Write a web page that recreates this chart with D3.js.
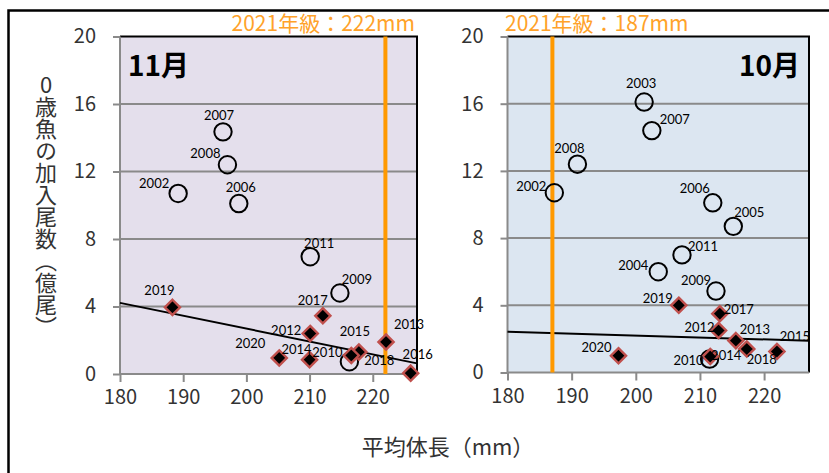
<!DOCTYPE html>
<html>
<head>
<meta charset="utf-8">
<script src="https://cdn.jsdelivr.net/npm/d3@7"></script>
<style>
  html, body { margin: 0; padding: 0; background: #fff; }
  svg { display: block; }
</style>
</head>
<body>
<svg id="chart" width="829" height="473"></svg>
<script>
// Axis ticks shared by both panels
const xTicks = [180, 190, 200, 210, 220];
const yTicks = [0, 4, 8, 12, 16, 20];

// November survey: 2002-2011 (open circles), 2012-2020 (diamonds)
const novCircleYears  = [2002, 2006, 2007, 2008, 2009, 2010, 2011];
const novCircleLength = [189.2, 198.8, 196.3, 197.0, 214.8, 216.3, 210.1];
const novCircleCount  = [10.7, 10.1, 14.35, 12.4, 4.8, 0.73, 6.95];
const novDiamondYears  = [2012, 2013, 2014, 2015, 2016, 2017, 2018, 2019, 2020];
const novDiamondLength = [210.1, 222.1, 210.0, 217.8, 226.0, 212.1, 216.6, 188.3, 205.2];
const novDiamondCount  = [2.4, 1.9, 0.85, 1.3, 0.05, 3.45, 1.1, 3.95, 0.95];
const novCohortLength = 222;

// October survey
const octCircleYears  = [2002, 2003, 2004, 2005, 2006, 2007, 2008, 2009, 2010, 2011];
const octCircleLength = [187.3, 201.3, 203.5, 215.2, 212.0, 202.5, 190.9, 212.5, 211.5, 207.2];
const octCircleCount  = [10.7, 16.1, 6.0, 8.7, 10.1, 14.4, 12.4, 4.85, 0.8, 7.0];
const octDiamondYears  = [2012, 2013, 2014, 2015, 2017, 2018, 2019, 2020];
const octDiamondLength = [212.9, 215.6, 211.6, 222.0, 213.1, 217.3, 206.7, 197.3];
const octDiamondCount  = [2.5, 1.9, 0.95, 1.25, 3.5, 1.4, 4.0, 1.0];
const octCohortLength = 187;

const xDomain = [180, 227];
const yDomain = [0, 20];

// Year-label placement (offset of label centre/baseline from the marker)
const novLabelOffsets = {
  2002: [-24, -5], 2006: [2, -12], 2007: [-4, -12], 2008: [-22, -7],
  2009: [17, -9], 2010: [-22, -5], 2011: [9, -9],
  2012: [-24, 1], 2013: [23, -13], 2014: [-13, -6], 2015: [-4, -16],
  2016: [7, -14], 2017: [-10, -11], 2018: [28, 10], 2019: [-13, -12], 2020: [-29, -10]
};
const octLabelOffsets = {
  2002: [-23, -2], 2003: [-3, -14], 2004: [-25, -2], 2005: [16, -9],
  2006: [-18, -10], 2007: [23, -7], 2008: [-8, -11], 2009: [-20, -6],
  2010: [-21, 6], 2011: [21, -4],
  2012: [-19, 1], 2013: [19, -7], 2014: [16, 3], 2015: [18, -11],
  2017: [19, 0], 2018: [15, 15], 2019: [-21, -2], 2020: [-22, -4]
};

const svg = d3.select("#chart");
const GRID = "#8a8a8a";
const TICK_FONT = "'Noto Sans CJK JP', 'Noto Sans', sans-serif";

// Outer frame
svg.append("path")
  .attr("d", "M8.5,480 V10.5 H840")
  .attr("fill", "none").attr("stroke", "#000").attr("stroke-width", 2.5);

function linearFit(xs, ys) {
  const mx = d3.mean(xs), my = d3.mean(ys);
  let sxy = 0, sxx = 0;
  xs.forEach((x, i) => { sxy += (x - mx) * (ys[i] - my); sxx += (x - mx) * (x - mx); });
  const slope = sxy / sxx;
  return { slope, intercept: my - slope * mx };
}

// diamond marker, half-diagonal h
const diamondPath = h => `M0,${-h}L${h},0L0,${h}L${-h},0Z`;

function drawPanel(cfg) {
  const x = d3.scaleLinear().domain(xDomain).range([cfg.left, cfg.right]);
  const y = d3.scaleLinear().domain(yDomain).range([cfg.bottom, cfg.top]);
  const g = svg.append("g");

  g.append("rect")
    .attr("x", cfg.left).attr("y", cfg.top)
    .attr("width", cfg.right - cfg.left).attr("height", cfg.bottom - cfg.top)
    .attr("fill", cfg.bg);

  // horizontal gridlines
  g.append("g").selectAll("line").data(yTicks.filter(d => d > 0 && d < 20)).join("line")
    .attr("x1", cfg.left).attr("x2", cfg.right)
    .attr("y1", d => y(d)).attr("y2", d => y(d))
    .attr("stroke", GRID).attr("stroke-width", 2);

  // plot-area border (top / right)
  g.append("path")
    .attr("d", `M${cfg.left},${cfg.top} H${cfg.right} V${cfg.bottom}`)
    .attr("fill", "none").attr("stroke", "#000").attr("stroke-width", 2);

  // axes
  const yAxis = d3.axisLeft(y).tickValues(yTicks).tickSize(7).tickPadding(17);
  const yg = g.append("g").attr("transform", `translate(${cfg.left},0)`).call(yAxis);
  const xAxis = d3.axisBottom(x).tickValues(xTicks).tickSize(8).tickPadding(8);
  const xg = g.append("g").attr("transform", `translate(0,${cfg.bottom})`).call(xAxis);
  [yg, xg].forEach(ax => {
    ax.select(".domain").attr("stroke", GRID).attr("stroke-width", 2);
    ax.selectAll(".tick line").attr("stroke", GRID).attr("stroke-width", 2);
    ax.selectAll(".tick text")
      .attr("fill", "#333").style("font-family", TICK_FONT).style("font-size", "20px");
  });
  xg.select(".domain").attr("d", `M${cfg.left},0 H${cfg.right}`);
  yg.select(".domain").attr("d", `M0,${cfg.bottom} V${cfg.top}`);

  // trendline of the 2012-2020 series
  const fit = linearFit(cfg.diamondLength, cfg.diamondCount);
  g.append("line")
    .attr("x1", x(xDomain[0])).attr("y1", y(fit.intercept + fit.slope * xDomain[0]))
    .attr("x2", x(xDomain[1])).attr("y2", y(fit.intercept + fit.slope * xDomain[1]))
    .attr("stroke", "#000").attr("stroke-width", 2);

  // 2021 cohort mean length
  g.append("line")
    .attr("x1", x(cfg.cohort)).attr("x2", x(cfg.cohort))
    .attr("y1", cfg.top).attr("y2", cfg.bottom)
    .attr("stroke", "#ff9900").attr("stroke-width", 4);

  const circles = cfg.circleYears.map((yr, i) => ({ yr, len: cfg.circleLength[i], n: cfg.circleCount[i] }));
  const diamonds = cfg.diamondYears.map((yr, i) => ({ yr, len: cfg.diamondLength[i], n: cfg.diamondCount[i] }));

  g.append("g").selectAll("circle").data(circles).join("circle")
    .attr("cx", d => x(d.len)).attr("cy", d => y(d.n)).attr("r", 8.7)
    .attr("fill", "none").attr("stroke", "#000").attr("stroke-width", 2);

  g.append("g").selectAll("path").data(diamonds).join("path")
    .attr("transform", d => `translate(${x(d.len)},${y(d.n)})`)
    .attr("d", diamondPath(7.6))
    .attr("fill", "#000").attr("stroke", "#c0504d").attr("stroke-width", 2.4)
    .attr("stroke-linejoin", "miter");

  // year labels
  g.append("g").selectAll("text").data(circles.concat(diamonds)).join("text")
    .attr("x", d => x(d.len) + cfg.offsets[d.yr][0])
    .attr("y", d => y(d.n) + cfg.offsets[d.yr][1])
    .attr("text-anchor", "middle")
    .style("font-family", "Lato, 'Noto Sans', sans-serif").style("font-size", "13px")
    .attr("fill", "#000")
    .text(d => d.yr);

  // month title
  g.append("text")
    .attr("x", cfg.titleX).attr("y", 76)
    .attr("text-anchor", cfg.titleAnchor)
    .style("font-family", TICK_FONT).style("font-size", "28px").style("font-weight", "bold")
    .attr("fill", "#000")
    .text(cfg.title);

  // cohort label
  g.append("text")
    .attr("x", cfg.cohortLabelX).attr("y", 31)
    .attr("text-anchor", cfg.cohortLabelAnchor)
    .style("font-family", TICK_FONT).style("font-size", "21px")
    .attr("fill", "#ffa229")
    .text(`2021年級：${cfg.cohort}mm`);
}

drawPanel({
  left: 120, right: 417, top: 36.5, bottom: 374, bg: "#e4dfec",
  circleYears: novCircleYears, circleLength: novCircleLength, circleCount: novCircleCount,
  diamondYears: novDiamondYears, diamondLength: novDiamondLength, diamondCount: novDiamondCount,
  cohort: novCohortLength, offsets: novLabelOffsets,
  title: "11月", titleX: 128, titleAnchor: "start",
  cohortLabelX: 415, cohortLabelAnchor: "end"
});

drawPanel({
  left: 507.5, right: 809, top: 36.5, bottom: 372.5, bg: "#dce6f1",
  circleYears: octCircleYears, circleLength: octCircleLength, circleCount: octCircleCount,
  diamondYears: octDiamondYears, diamondLength: octDiamondLength, diamondCount: octDiamondCount,
  cohort: octCohortLength, offsets: octLabelOffsets,
  title: "10月", titleX: 800, titleAnchor: "end",
  cohortLabelX: 505, cohortLabelAnchor: "start"
});

// axis titles
svg.append("text")
  .attr("x", 46).attr("y", 74)
  .style("writing-mode", "vertical-rl")
  .style("text-orientation", "upright")
  .style("font-family", TICK_FONT).style("font-size", "22px")
  .attr("fill", "#333")
  .text("0歳魚の加入尾数（億尾）");

svg.append("text")
  .attr("x", 448).attr("y", 455)
  .attr("text-anchor", "middle")
  .style("font-family", TICK_FONT).style("font-size", "22px")
  .attr("fill", "#333")
  .text("平均体長（mm）");
</script>
</body>
</html>
